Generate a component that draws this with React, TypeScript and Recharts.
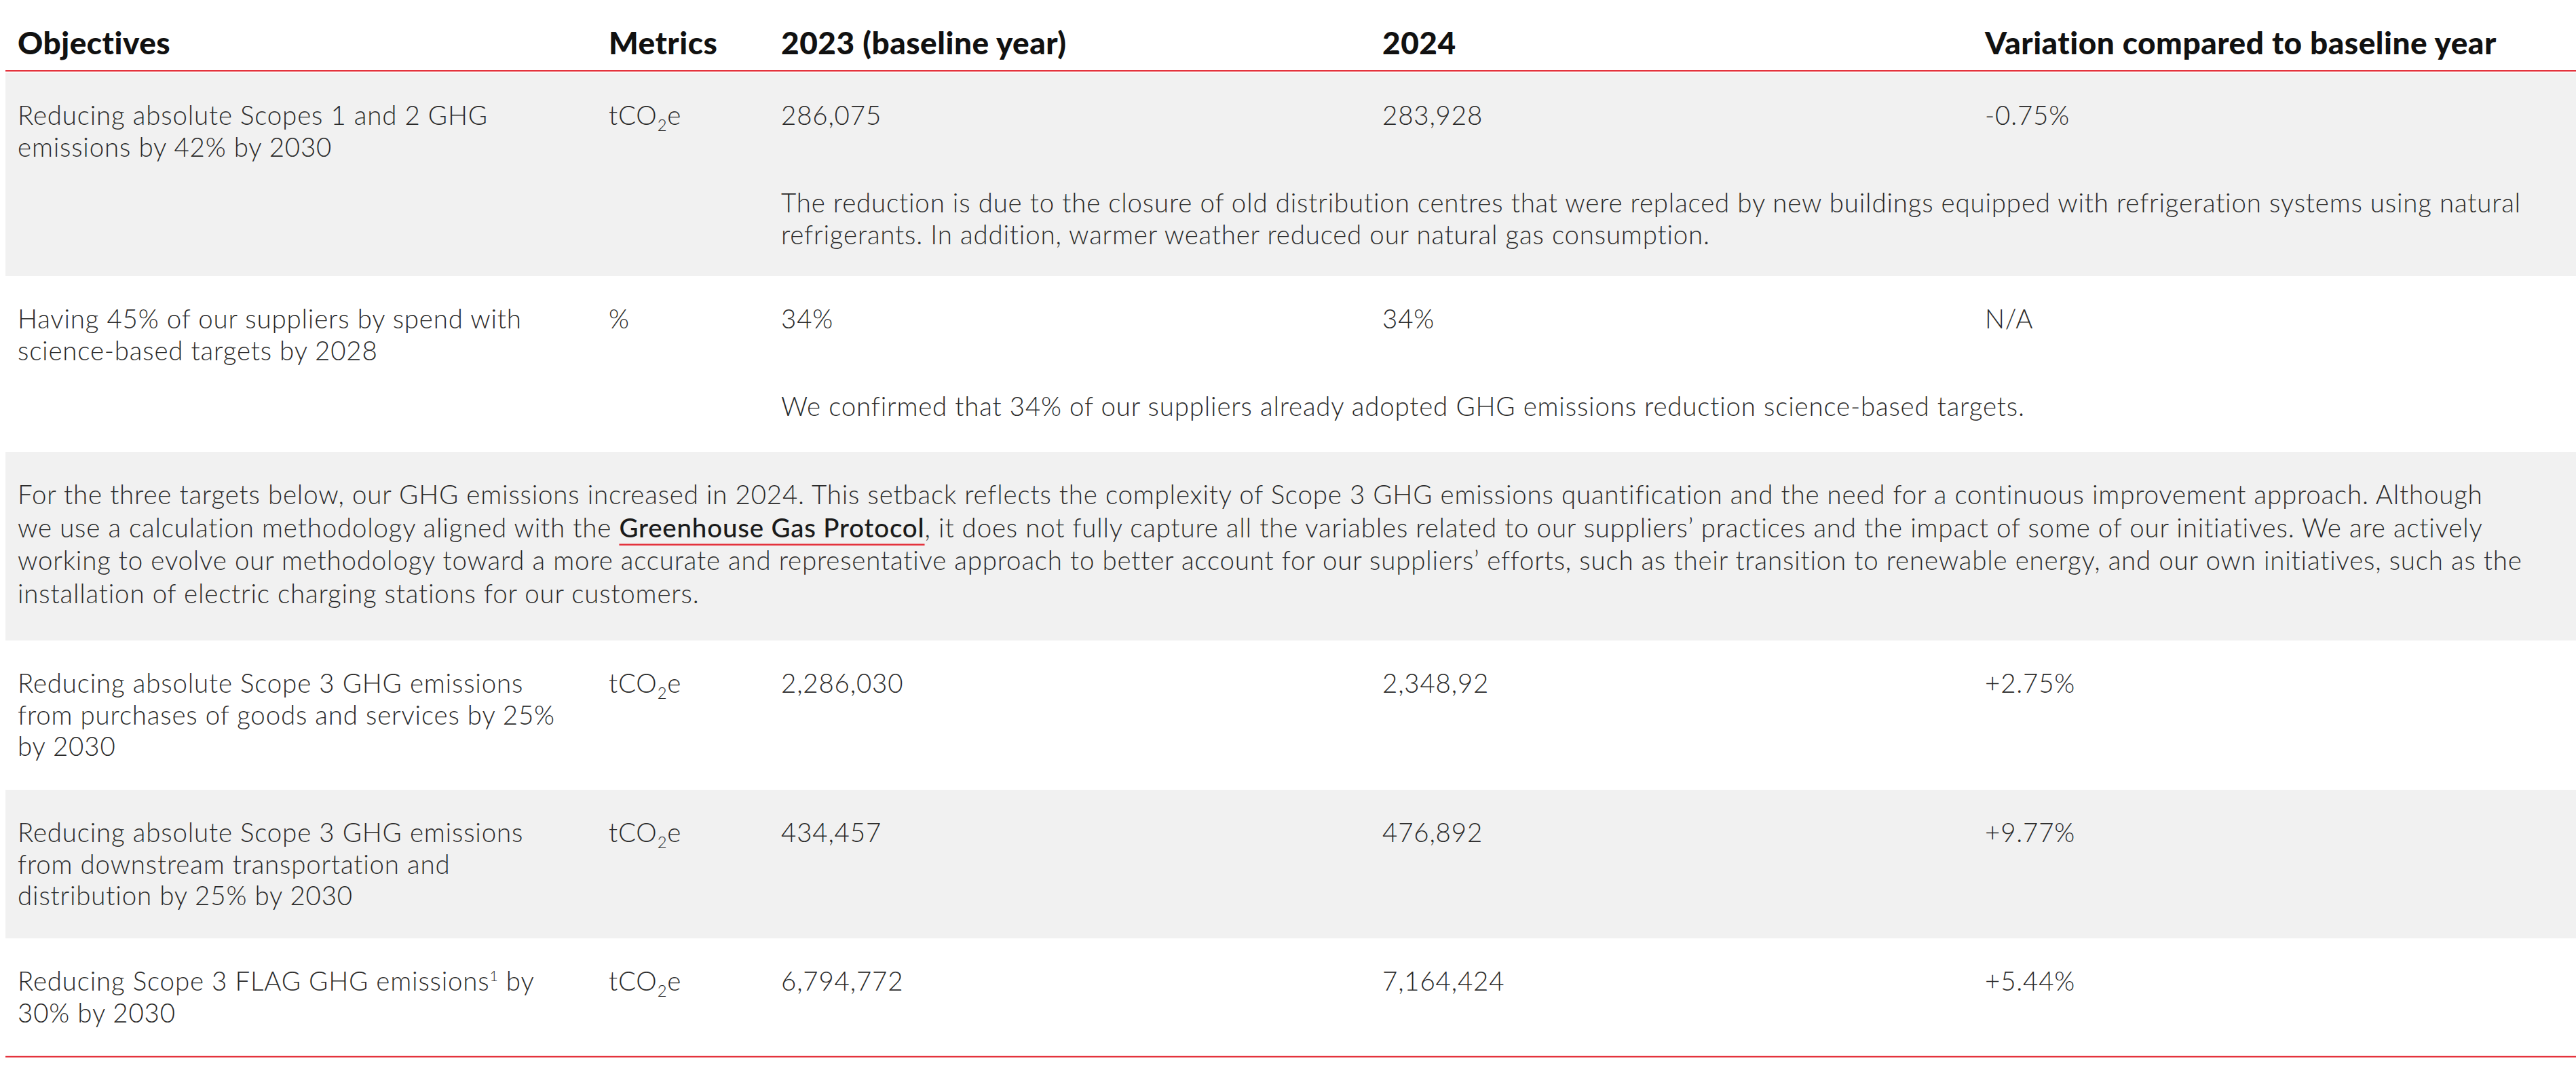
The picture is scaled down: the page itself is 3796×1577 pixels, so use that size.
import React, { useLayoutEffect, useRef, useState } from 'react';
import { Surface, Layer, Rectangle, Text } from 'recharts';

// ---- table content ----
const headers = ['Objectives', 'Metrics', '2023 (baseline year)', '2024', 'Variation compared to baseline year'];

// "_2" = subscript, "^1" = superscript, [[...]] = underlined link
const objectives = [
  ['Reducing absolute Scopes 1 and 2 GHG', 'emissions by 42% by 2030'],
  ['Having 45% of our suppliers by spend with', 'science-based targets by 2028'],
  ['Reducing absolute Scope 3 GHG emissions', 'from purchases of goods and services by 25%', 'by 2030'],
  ['Reducing absolute Scope 3 GHG emissions', 'from downstream transportation and', 'distribution by 25% by 2030'],
  ['Reducing Scope 3 FLAG GHG emissions^1 by', '30% by 2030'],
];
const metrics = ['tCO_2e', '%', 'tCO_2e', 'tCO_2e', 'tCO_2e'];
const baseline2023 = ['286,075', '34%', '2,286,030', '434,457', '6,794,772'];
const values2024 = ['283,928', '34%', '2,348,92', '476,892', '7,164,424'];
const variation = ['-0.75%', 'N/A', '+2.75%', '+9.77%', '+5.44%'];
const notes = [
  [
    'The reduction is due to the closure of old distribution centres that were replaced by new buildings equipped with refrigeration systems using natural',
    'refrigerants. In addition, warmer weather reduced our natural gas consumption.',
  ],
  ['We confirmed that 34% of our suppliers already adopted GHG emissions reduction science-based targets.'],
  [],
  [],
  [],
];
const paragraph = [
  'For the three targets below, our GHG emissions increased in 2024. This setback reflects the complexity of Scope 3 GHG emissions quantification and the need for a continuous improvement approach. Although',
  'we use a calculation methodology aligned with the [[Greenhouse Gas Protocol]], it does not fully capture all the variables related to our suppliers\u2019 practices and the impact of some of our initiatives. We are actively',
  'working to evolve our methodology toward a more accurate and representative approach to better account for our suppliers\u2019 efforts, such as their transition to renewable energy, and our own initiatives, such as the',
  'installation of electric charging stations for our customers.',
];
// the paragraph sits between row 2 and row 3
const paragraphAfter = 1;

// ---- layout ----
const W = 3796;
const H = 1577;
const COLS = [26, 897, 1151, 2037, 2925];
const LEFT = 8;
const RED = '#e4333d';
const GREY = '#f1f1f1';
const INK = '#2a2a2a';
const FONT = 'Lato, "Open Sans", sans-serif';
const BODY = 38.5;
const BODY_TRACK = '0.8px';
const HEAD = 46;
const HEAD_TRACK = '0.5px';
const LH = 46.5;
const PLH = 48.5;
const TOP_PAD = 77;
const NOTE_PAD = 206;
const HEADER_BASE = 80;
const RULE_Y = 103;
const BAND_TOPS = [107, 407, 666, 944, 1164, 1383];
const BOTTOM_RULE = 1556;

const RICH = /(\^\d|_\d|\[\[[^\]]+\]\])/;

function RichLine({ x, y, text }: { x: number; y: number; text: string }) {
  const linkRef = useRef<SVGTSpanElement>(null);
  const [ul, setUl] = useState<{ x1: number; x2: number } | null>(null);
  const parts = text.split(RICH).filter((p) => p !== '');

  useLayoutEffect(() => {
    const el = linkRef.current;
    if (!el) return;
    const start = el.getStartPositionOfChar(0).x;
    setUl({ x1: start, x2: start + el.getComputedTextLength() });
  }, [text]);

  let pending = 0;
  const spans = parts.map((p, i) => {
    const back = pending;
    pending = 0;
    if (p.startsWith('^')) {
      pending = BODY * 0.36;
      return (
        <tspan key={i} fontSize={BODY * 0.55} dy={back - BODY * 0.36}>
          {p.slice(1)}
        </tspan>
      );
    }
    if (p.startsWith('_')) {
      pending = -BODY * 0.24;
      return (
        <tspan key={i} fontSize={BODY * 0.62} dy={back + BODY * 0.24}>
          {p.slice(1)}
        </tspan>
      );
    }
    if (p.startsWith('[[')) {
      return (
        <tspan key={i} ref={linkRef} fontWeight={500} fill="#1a1a1a" dy={back || undefined}>
          {p.slice(2, -2)}
        </tspan>
      );
    }
    return (
      <tspan key={i} dy={back || undefined}>
        {p}
      </tspan>
    );
  });

  return (
    <g>
      <text x={x} y={y} fontFamily={FONT} fontSize={BODY} fontWeight={300} fill={INK} style={{ whiteSpace: 'pre' }}>
        {spans}
      </text>
      {ul && <Rectangle x={ul.x1} y={y + 10} width={ul.x2 - ul.x1} height={2.5} fill={RED} />}
    </g>
  );
}

function Cell({ x, y, text }: { x: number; y: number; text: string }) {
  if (RICH.test(text)) return <RichLine x={x} y={y} text={text} />;
  return (
    <Text x={x} y={y} fontFamily={FONT} fontSize={BODY} fontWeight={300} fill={INK}>
      {text}
    </Text>
  );
}

export default function App() {
  // build the band order: objective rows with the paragraph inserted
  const bands: Array<{ kind: 'row'; idx: number } | { kind: 'para' }> = [];
  objectives.forEach((_, i) => {
    bands.push({ kind: 'row', idx: i });
    if (i === paragraphAfter) bands.push({ kind: 'para' });
  });

  return (
    <div style={{ position: 'fixed', left: 0, top: 0, width: W, height: H, background: '#fff' }}>
      <Surface width={W} height={H} viewBox={{ x: 0, y: 0, width: W, height: H }}>
        <g style={{ letterSpacing: BODY_TRACK }}>
          {bands.map((b, bi) => {
            const top = BAND_TOPS[bi];
            const bottom = bi + 1 < BAND_TOPS.length ? BAND_TOPS[bi + 1] : BOTTOM_RULE;
            const base = top + TOP_PAD;
            return (
              <Layer key={bi}>
                {bi % 2 === 0 && (
                  <Rectangle x={LEFT} y={top} width={W - LEFT} height={bottom - top} fill={GREY} />
                )}
                {b.kind === 'para'
                  ? paragraph.map((line, li) => <Cell key={li} x={COLS[0]} y={base + li * PLH} text={line} />)
                  : (
                    <>
                      {objectives[b.idx].map((line, li) => (
                        <Cell key={`o${li}`} x={COLS[0]} y={base + li * LH} text={line} />
                      ))}
                      <Cell x={COLS[1]} y={base} text={metrics[b.idx]} />
                      <Cell x={COLS[2]} y={base} text={baseline2023[b.idx]} />
                      <Cell x={COLS[3]} y={base} text={values2024[b.idx]} />
                      <Cell x={COLS[4]} y={base} text={variation[b.idx]} />
                      {notes[b.idx].map((line, li) => (
                        <Cell key={`n${li}`} x={COLS[2]} y={top + NOTE_PAD + li * LH} text={line} />
                      ))}
                    </>
                  )}
              </Layer>
            );
          })}
        </g>

        <g style={{ letterSpacing: HEAD_TRACK }}>
          {headers.map((h, i) => (
            <Text key={h} x={COLS[i]} y={HEADER_BASE} fontFamily={FONT} fontSize={HEAD} fontWeight={900} fill="#111">
              {h}
            </Text>
          ))}
        </g>
        <Layer>
          <Rectangle x={LEFT} y={RULE_Y} width={W - LEFT} height={2.5} fill={RED} />
          <Rectangle x={LEFT} y={BOTTOM_RULE} width={W - LEFT} height={2.5} fill={RED} />
        </Layer>
      </Surface>
    </div>
  );
}
